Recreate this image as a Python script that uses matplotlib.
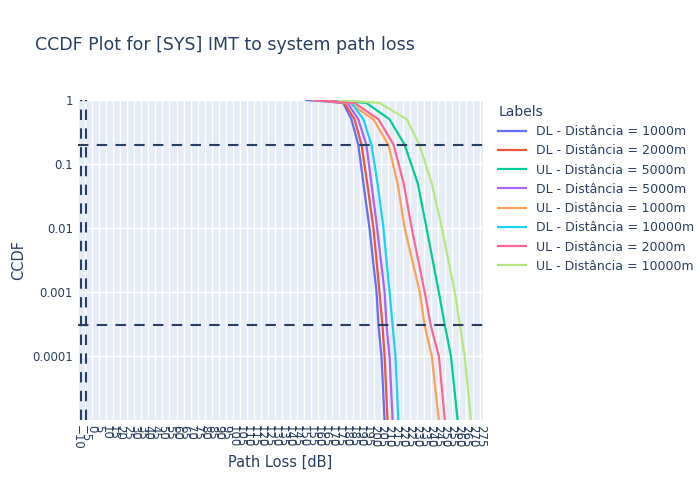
import numpy as np
import matplotlib.pyplot as plt

ccdf = [1.0, 0.9, 0.5, 0.2, 0.05, 0.01, 1e-3, 3e-4, 1e-4, 1e-5]
labels = ["DL - Distância = 1000m", "DL - Distância = 2000m", "UL - Distância = 5000m",
          "DL - Distância = 5000m", "UL - Distância = 1000m", "DL - Distância = 10000m",
          "UL - Distância = 2000m", "UL - Distância = 10000m"]
colors = ["#636EFA", "#EF553B", "#00CC96", "#AB63FA", "#FFA15A", "#19D3F3", "#FF6692", "#B6E880"]
loss = [
    [152, 178.0, 183.8, 188.7, 192.3, 196.6, 201.6, 203.0, 205.1, 207.3],
    [160, 178.8, 186.0, 191.0, 195.0, 199.4, 203.7, 205.8, 207.3, 209.4],
    [170, 194.4, 210.8, 221.5, 230.8, 237.0, 245.7, 250.0, 254.3, 259.0],
    [162, 181.0, 188.7, 194.4, 198.0, 202.0, 207.3, 208.7, 210.8, 213.0],
    [157, 182.3, 199.4, 210.0, 216.5, 221.5, 232.2, 235.7, 240.7, 245.7],
    [165, 183.8, 192.3, 198.0, 202.3, 206.5, 210.8, 213.0, 215.0, 217.0],
    [158, 186.0, 203.0, 213.7, 220.8, 226.5, 235.7, 240.0, 245.7, 250.0],
    [175, 203.7, 223.0, 232.0, 240.7, 247.9, 257.0, 260.7, 264.0, 268.5],
]
hlines = [0.2, 3e-4]
vlines = [-8, -4]

fig = plt.figure(figsize=(7, 5), dpi=100)
ax = fig.add_axes([0.111, 0.16, 0.579, 0.64])
ax.set_facecolor("#E5ECF6")
for lab, c, xs in zip(labels, colors, loss):
    ax.plot(xs, ccdf, color=c, lw=1.6, label=lab)
for h in hlines:
    ax.axhline(h, color="#2A3F5F", ls=(0, (5, 4)), lw=1.5)
for v in vlines:
    ax.axvline(v, color="#2A3F5F", ls=(0, (5, 4)), lw=1.5)
ax.set_yscale("log")
ax.set_ylim(1e-5, 1)
ax.set_xlim(-10, 277)
ax.set_yticks([1, 0.1, 0.01, 0.001, 0.0001])
ax.set_yticklabels(["1", "0.1", "0.01", "0.001", "0.0001"])
ax.minorticks_off()
xt = np.arange(-10, 280, 5)
ax.set_xticks(xt)
ax.set_xticklabels([str(t).replace("-", "\u2212") for t in xt], rotation=-90, fontsize=8.5)
ax.tick_params(colors="#2A3F5F", length=0, labelsize=8.5)
ax.grid(True, color="white", lw=1)
ax.set_axisbelow(True)
for s in ax.spines.values():
    s.set_visible(False)
ax.set_xlabel("Path Loss [dB]", color="#2A3F5F", fontsize=10.5)
ax.set_ylabel("CCDF", color="#2A3F5F", fontsize=10.5)
fig.text(0.05, 0.9, "CCDF Plot for [SYS] IMT to system path loss", color="#2A3F5F", fontsize=12.5)
leg = ax.legend(loc="upper left", bbox_to_anchor=(1.01, 1.02), frameon=False, title="Labels",
                fontsize=9, labelcolor="#2A3F5F", handlelength=2.2, alignment="left")
leg.get_title().set_color("#2A3F5F")
leg.get_title().set_fontsize(10)
fig.savefig("out.png")
